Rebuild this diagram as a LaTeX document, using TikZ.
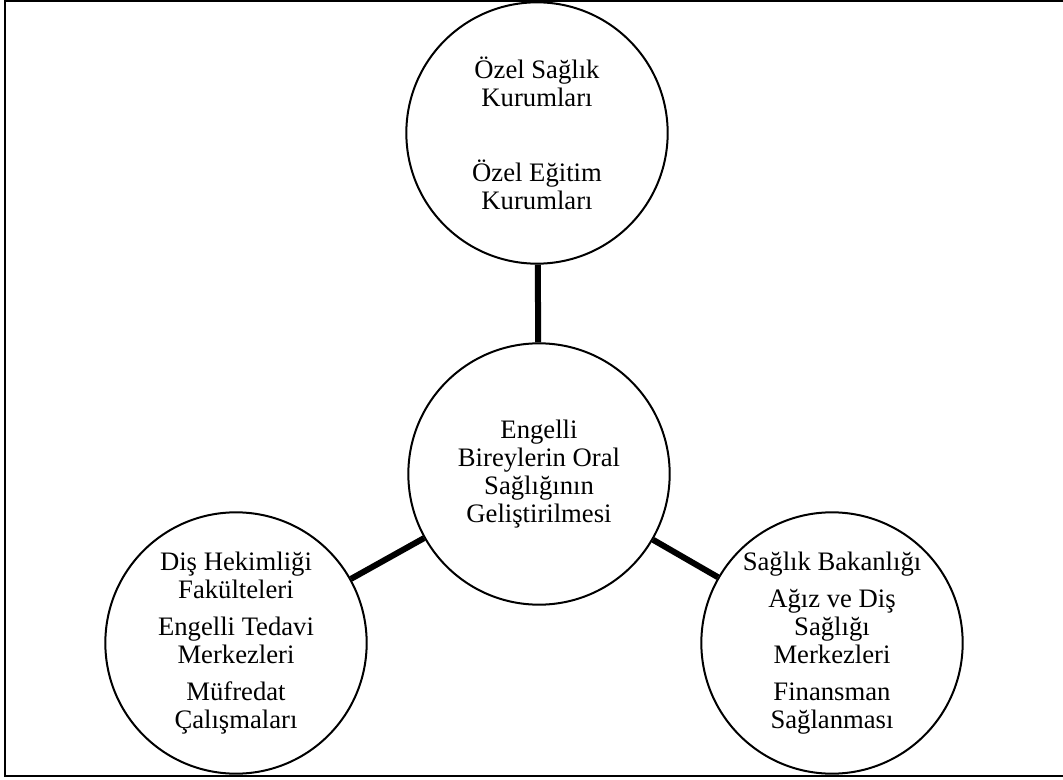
\documentclass[tikz,border=0pt]{standalone}
\usepackage{fontspec}
\setmainfont{Liberation Serif}
\usepackage{tikz}
\usetikzlibrary{positioning}

\begin{document}
\begin{tikzpicture}[
  x=0.75pt, y=-0.75pt,
  font=\fontsize{20}{21}\selectfont,
  topic/.style={draw, circle, line width=1.5pt, minimum size=196pt,
    inner sep=0pt, align=center},
  link/.style={line width=4.5pt},
]
\useasboundingbox (0,0) rectangle (1063,780);
\draw[line width=1.6pt] (1064,1) -- (5,1) -- (5,776) -- (1064,776);
\node[topic] (o) at (537,133) {Özel Sağlık\\Kurumları\\[35pt]Özel Eğitim\\Kurumları};
\node[topic] (m) at (539,474) {Engelli\\Bireylerin Oral\\Sağlığının\\Geliştirilmesi};
\node[topic] (d) at (236,643) {Diş Hekimliği\\Fakülteleri\\[7pt]Engelli Tedavi\\Merkezleri\\[7pt]Müfredat\\Çalışmaları};
\node[topic] (s) at (832,643) {Sağlık Bakanlığı\\[7pt]Ağız ve Diş\\Sağlığı\\Merkezleri\\[7pt]Finansman\\Sağlanması};
\draw[link] (o) -- (m);
\draw[link] (m) -- (d);
\draw[link] (m) -- (s);
\end{tikzpicture}
\end{document}
